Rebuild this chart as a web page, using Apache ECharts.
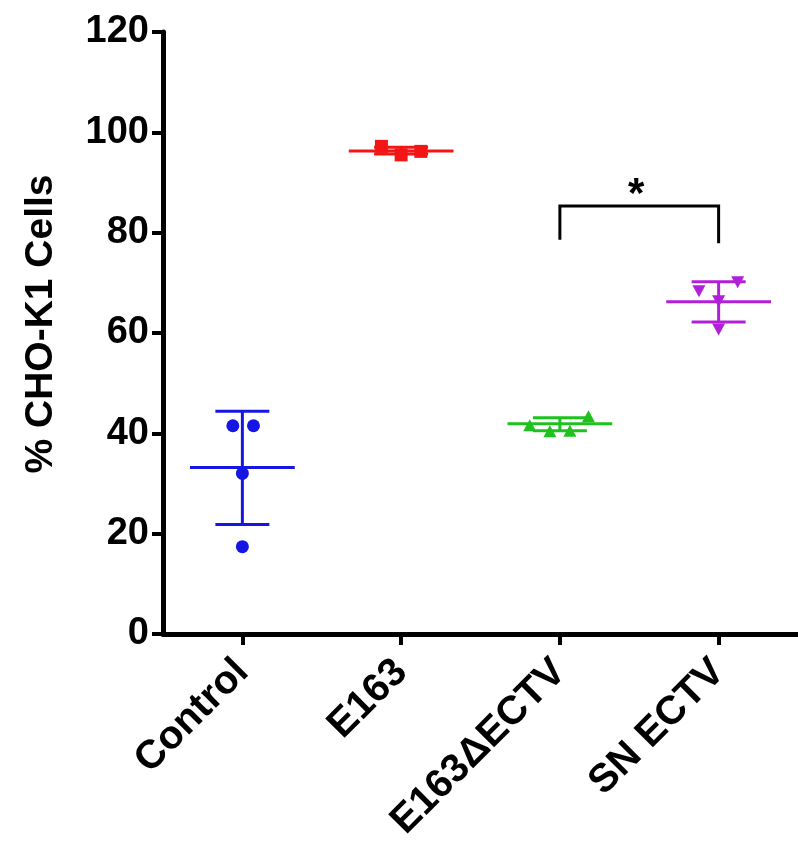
<!DOCTYPE html>
<html>
<head>
<meta charset="utf-8">
<script src="https://cdn.jsdelivr.net/npm/echarts@6/dist/echarts.min.js"></script>
<style>
html,body{margin:0;padding:0;background:#fff;}
#chart{width:798px;height:844px;}
</style>
</head>
<body>
<div id="chart"></div>
<script>
// ---- data ----
const categories = ['Control', 'E163', 'E163ΔECTV', 'SN ECTV'];
const yTicks = [0, 20, 40, 60, 80, 100, 120];
const yTitle = '% CHO-K1 Cells';

const controlValues = [41.5, 41.5, 32.0, 17.4];
const controlJitter = [-0.06, 0.07, 0, 0];
const e163Values = [97.2, 95.5, 96.2];
const e163Jitter = [-0.124, 0, 0.124];
const deltaValues = [41.6, 40.4, 40.5, 43.4];
const deltaJitter = [-0.19, -0.063, 0.063, 0.18];
const snValues = [68.3, 70.1, 66.3, 60.7];
const snJitter = [-0.124, 0.12, 0, 0];

const groupMeans = [33.2, 96.3, 41.9, 66.2];
const groupSdUpper = [44.4, 97.0, 43.1, 70.2];
const groupSdLower = [21.8, 95.7, 40.5, 62.2];

// significance bracket: [left foot, top, right foot]
const bracketLevels = [78.6, 85.3, 77.9];
const bracketLabel = '*';

// ---- styling ----
const colors = ['#1616e4', '#f21616', '#1ec21e', '#b21fd8'];
const FONT = "'Liberation Sans', Arial, Helvetica, sans-serif";

function pts(idx, vals, jit) {
  return vals.map((v, i) => [idx + jit[i], v]);
}

const chart = echarts.init(document.getElementById('chart'), null, {renderer: 'canvas'});

const errData = categories.map((c, i) => [i, groupMeans[i], groupSdUpper[i], groupSdLower[i]]);

const option = {
  backgroundColor: '#ffffff',
  animation: false,
  grid: {left: 163, top: 32, right: -2, bottom: 209, containLabel: false},
  graphic: [{
    type: 'text', x: 41, y: 324, rotation: Math.PI / 2,
    style: {text: yTitle, align: 'center', verticalAlign: 'middle',
      fill: '#000', fontSize: 39, fontWeight: 'bold', fontFamily: FONT}
  }],
  xAxis: [
    {
      type: 'category',
      data: categories,
      boundaryGap: true,
      axisLine: {show: true, onZero: false, lineStyle: {color: '#000', width: 5}},
      axisTick: {show: true, alignWithLabel: true, length: 11, lineStyle: {color: '#000', width: 4}},
      axisLabel: {
        rotate: 45, margin: 32, color: '#000', fontSize: 40, fontWeight: 'bold', fontFamily: FONT
      },
      splitLine: {show: false}
    },
    {
      type: 'value', min: -0.5, max: 3.5, show: false
    }
  ],
  yAxis: {
    type: 'value', min: 0, max: 120, interval: 20,
    axisLine: {show: true, onZero: false, lineStyle: {color: '#000', width: 5}},
    axisTick: {show: true, length: 11, lineStyle: {color: '#000', width: 4}},
    axisLabel: {
      color: '#000', fontSize: 38, fontWeight: 'bold', fontFamily: FONT, margin: 14,
      formatter: v => yTicks.includes(v) ? String(v) : ''
    },
    splitLine: {show: false}
  },
  series: [
    {
      type: 'custom', xAxisIndex: 1, data: errData, z: 3,
      renderItem: function (params, api) {
        const i = api.value(0), m = api.value(1), hi = api.value(2), lo = api.value(3);
        const col = colors[params.dataIndex];
        const st = {stroke: col, lineWidth: 3};
        const seg = (x1, y1, x2, y2) => {
          const a = api.coord([x1, y1]), b = api.coord([x2, y2]);
          return {type: 'line', shape: {x1: a[0], y1: a[1], x2: b[0], y2: b[1]}, style: st};
        };
        const mw = 0.33, cw = 0.17;
        return {type: 'group', children: [
          seg(i - mw, m, i + mw, m),
          seg(i, hi, i, lo),
          seg(i - cw, hi, i + cw, hi),
          seg(i - cw, lo, i + cw, lo)
        ]};
      }
    },
    {type: 'scatter', xAxisIndex: 1, data: pts(0, controlValues, controlJitter), symbol: 'circle', symbolSize: 13, itemStyle: {color: colors[0], opacity: 1}, z: 4},
    {type: 'scatter', xAxisIndex: 1, data: pts(1, e163Values, e163Jitter), symbol: 'rect', symbolSize: 13, itemStyle: {color: colors[1], opacity: 1}, z: 4},
    {type: 'scatter', xAxisIndex: 1, data: pts(2, deltaValues, deltaJitter), symbol: 'triangle', symbolSize: [13, 12], itemStyle: {color: colors[2], opacity: 1}, z: 4},
    {type: 'scatter', xAxisIndex: 1, data: pts(3, snValues, snJitter), symbol: 'triangle', symbolRotate: 180, symbolSize: [13, 12], itemStyle: {color: colors[3], opacity: 1}, z: 4},
    {
      type: 'custom', xAxisIndex: 1, z: 5,
      data: [[2, bracketLevels[0], 3, bracketLevels[1], bracketLevels[2]]],
      renderItem: function (params, api) {
        const a = api.coord([api.value(0), api.value(1)]);
        const b = api.coord([api.value(0), api.value(3)]);
        const c = api.coord([api.value(2), api.value(3)]);
        const d = api.coord([api.value(2), api.value(4)]);
        return {type: 'group', children: [
          {type: 'polyline', shape: {points: [a, b, c, d]}, style: {stroke: '#000', lineWidth: 3, fill: null}},
          {type: 'text', style: {
            text: bracketLabel, x: (b[0] + c[0]) / 2 - 3, y: b[1] + 10,
            align: 'center', verticalAlign: 'bottom',
            fill: '#000', fontSize: 42, fontWeight: 'bold', fontFamily: FONT
          }}
        ]};
      }
    }
  ]
};
chart.setOption(option);
</script>
</body>
</html>
